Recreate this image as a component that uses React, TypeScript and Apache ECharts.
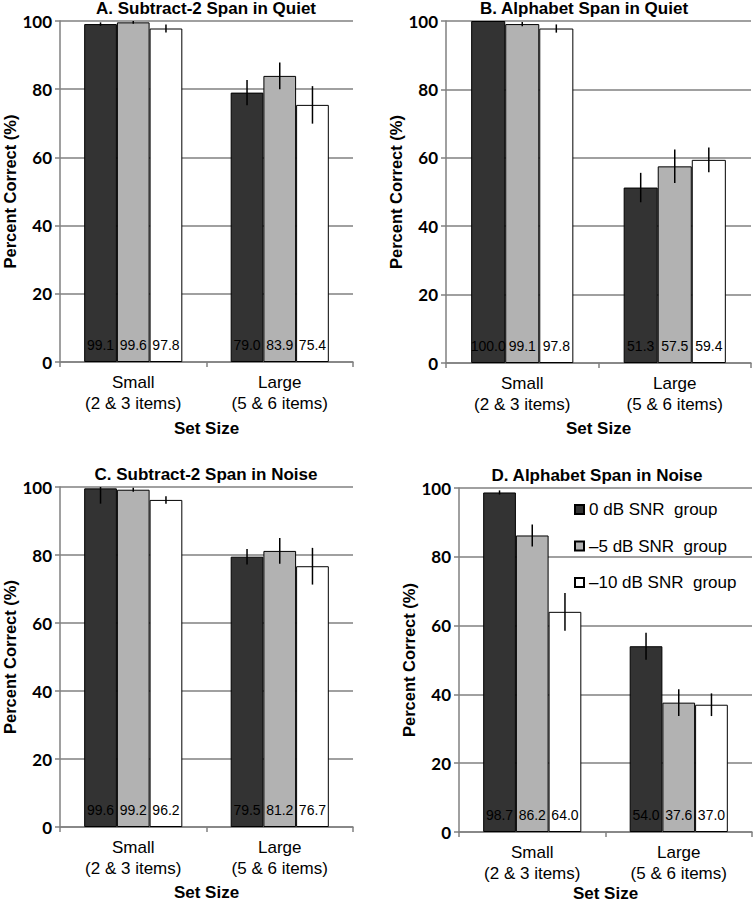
import React, { useEffect, useRef } from 'react';
import * as echarts from 'echarts';

const categories = ['Small\n(2 & 3 items)', 'Large\n(5 & 6 items)'];
const groupNames = ['0 dB SNR\u00a0 group', '\u20135 dB SNR\u00a0 group', '\u201310 dB SNR\u00a0 group'];
const panelTitles = [
  'A. Subtract-2 Span in Quiet',
  'B. Alphabet Span in Quiet',
  'C. Subtract-2 Span in Noise',
  'D. Alphabet Span in Noise',
];
const yTicks = { min: 0, max: 100, interval: 20 };

// Panel A: Subtract-2 span in quiet
const aDark = [99.1, 79.0];
const aGray = [99.6, 83.9];
const aWhite = [97.8, 75.4];
const aDarkErr = [0.5, 3.7];
const aGrayErr = [0.4, 3.9];
const aWhiteErr = [1.2, 5.5];

// Panel B: Alphabet span in quiet
const bDark = [100.0, 51.3];
const bGray = [99.1, 57.5];
const bWhite = [97.8, 59.4];
const bDarkErr = [0, 4.3];
const bGrayErr = [0.6, 4.9];
const bWhiteErr = [1.2, 3.6];

// Panel C: Subtract-2 span in noise
const cDark = [99.6, 79.5];
const cGray = [99.2, 81.2];
const cWhite = [96.2, 76.7];
const cDarkErr = [4.5, 2.3];
const cGrayErr = [0.6, 3.8];
const cWhiteErr = [1.1, 5.4];

// Panel D: Alphabet span in noise
const dDark = [98.7, 54.0];
const dGray = [86.2, 37.6];
const dWhite = [64.0, 37.0];
const dDarkErr = [0.6, 3.9];
const dGrayErr = [3.2, 3.9];
const dWhiteErr = [5.5, 3.3];

const panelValues = [
  [aDark, aGray, aWhite],
  [bDark, bGray, bWhite],
  [cDark, cGray, cWhite],
  [dDark, dGray, dWhite],
];
const panelErrors = [
  [aDarkErr, aGrayErr, aWhiteErr],
  [bDarkErr, bGrayErr, bWhiteErr],
  [cDarkErr, cGrayErr, cWhiteErr],
  [dDarkErr, dGrayErr, dWhiteErr],
];

const barColors = ['#333333', '#b2b2b2', '#ffffff'];
const GAP = 0.33;
const ARIAL = '"Liberation Sans", Arial, sans-serif';

const grids = [
  { left: 60, top: 21, width: 293, height: 341 },
  { left: 446, top: 21, width: 305, height: 342 },
  { left: 60, top: 487, width: 293, height: 340 },
  { left: 459, top: 488, width: 293, height: 344 },
];
const xNameGaps = [58, 57, 57, 53];
const titlePos = [
  { x: 206, top: 0 },
  { x: 584, top: 0 },
  { x: 206, top: 466 },
  { x: 597, top: 467 },
];

export default function App() {
  const ref = useRef<HTMLDivElement>(null);
  useEffect(() => {
    if (!ref.current) return;
    const chart = echarts.init(ref.current, undefined, { renderer: 'svg' });

    const series: any[] = [];
    panelValues.forEach((groups, p) => {
      groups.forEach((vals, k) => {
        series.push({
          type: 'bar',
          name: groupNames[k],
          xAxisIndex: p,
          yAxisIndex: p,
          data: vals,
          barGap: '0%',
          barCategoryGap: GAP * 100 + '%',
          itemStyle: { color: barColors[k], borderColor: '#000', borderWidth: 1 },
          label: {
            show: true,
            position: 'insideBottom',
            distance: 10,
            formatter: (prm: any) => Number(prm.value).toFixed(1),
            color: '#000',
            fontSize: 14,
            fontFamily: ARIAL,
          },
          z: 2,
        });
      });
      groups.forEach((vals, k) => {
        const errs = panelErrors[p][k];
        series.push({
          type: 'custom',
          xAxisIndex: p,
          yAxisIndex: p,
          z: 5,
          silent: true,
          encode: { x: 0, y: 1 },
          data: vals.map((v, i) => [i, v, errs[i]]),
          renderItem: (_params: any, api: any) => {
            const idx = api.value(0);
            const v = api.value(1);
            const e = api.value(2);
            if (!e) return null;
            const hi = Math.min(v + e, yTicks.max);
            const lo = v - e;
            const band = api.size([1, 0])[0];
            const barW = (band * (1 - GAP)) / 3;
            const top = api.coord([idx, hi]);
            const bot = api.coord([idx, lo]);
            const x = top[0] + (k - 1) * barW;
            return {
              type: 'line',
              shape: { x1: x, y1: top[1], x2: x, y2: bot[1] },
              style: { stroke: '#000', lineWidth: 1.5 },
            };
          },
        });
      });
    });

    const axisGray = '#808080';
    const option: any = {
      animation: false,
      backgroundColor: '#ffffff',
      title: panelTitles.map((t, p) => ({
        text: t,
        left: titlePos[p].x,
        top: titlePos[p].top,
        textAlign: 'center',
        padding: 0,
        textStyle: { fontFamily: ARIAL, fontWeight: 'bold', fontSize: 17, color: '#000' },
      })),
      legend: {
        data: groupNames,
        orient: 'vertical',
        left: 574,
        top: 501,
        itemWidth: 9,
        itemHeight: 9,
        itemGap: 19.5,
        icon: 'rect',
        selectedMode: false,
        padding: 0,
        textStyle: { fontFamily: ARIAL, fontSize: 17, color: '#000' },
      },
      grid: grids.map((g) => ({ ...g, containLabel: false, outerBoundsMode: 'none' })),
      xAxis: grids.map((_, p) => ({
        type: 'category',
        gridIndex: p,
        data: categories,
        axisLine: { show: true, lineStyle: { color: axisGray, width: 1.5 } },
        axisTick: { show: true, length: 5, lineStyle: { color: axisGray, width: 1.5 } },
        axisLabel: { fontFamily: ARIAL, fontSize: 17, lineHeight: 21, color: '#000', margin: 10 },
        name: 'Set Size',
        nameLocation: 'middle',
        nameGap: xNameGaps[p],
        nameTextStyle: { fontFamily: ARIAL, fontWeight: 'bold', fontSize: 17, color: '#000' },
      })),
      yAxis: grids.map((_, p) => ({
        type: 'value',
        gridIndex: p,
        min: yTicks.min,
        max: yTicks.max,
        interval: yTicks.interval,
        axisLine: { show: true, lineStyle: { color: axisGray, width: 1.5 } },
        axisTick: { show: true, length: 5, lineStyle: { color: axisGray, width: 1.5 } },
        splitLine: { show: true, lineStyle: { color: axisGray, width: 1.5 } },
        axisLabel: { fontFamily: 'Lato, sans-serif', fontWeight: 'bold', fontSize: 17, color: '#000', margin: 8 },
        name: 'Percent Correct (%)',
        nameLocation: 'middle',
        nameGap: 40,
        nameTextStyle: { fontFamily: ARIAL, fontWeight: 'bold', fontSize: 16.5, color: '#000' },
      })),
      series,
    };
    chart.setOption(option);
    return () => chart.dispose();
  }, []);
  return (
    <div
      ref={ref}
      style={{ position: 'absolute', left: 0, top: 0, width: 754, height: 905, background: '#fff' }}
    />
  );
}
